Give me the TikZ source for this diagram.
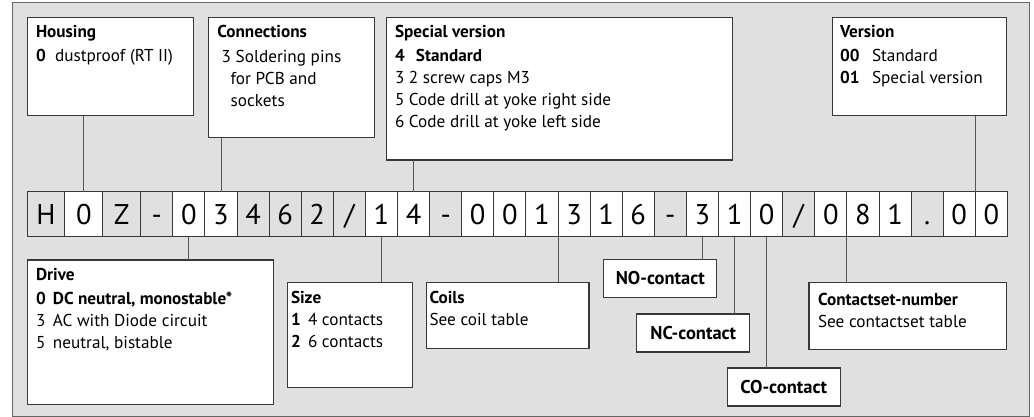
\documentclass[tikz,border=0pt]{standalone}
\usepackage{fontspec}
\setmainfont{PT Sans}
\definecolor{bgc}{HTML}{E0E0E0}
\definecolor{cg}{HTML}{E0E0E0}
\definecolor{cw}{HTML}{FFFFFF}
\definecolor{boxline}{HTML}{383838}
\definecolor{connline}{HTML}{555555}
\definecolor{framecol}{HTML}{666666}
\newcommand\bodyf{\fontsize{17.2}{22}\selectfont}
\newcommand\tagf{\fontsize{18.5}{22}\selectfont}
\newcommand\codef{\fontsize{28.5}{30}\selectfont}
\newcommand\fl{\rule{0pt}{13pt}}
\newcommand\nb[2]{\makebox[#1][l]{#2}}
\begin{document}
\begin{tikzpicture}[x=1pt,y=-1pt,
  infobox/.style={draw=boxline, fill=white, line width=1.1pt, inner sep=0pt, outer sep=0pt, anchor=north west},
  infotxt/.style={anchor=north west, inner sep=0pt, outer sep=0pt, align=left, font=\bodyf},
  tagbox/.style={draw=boxline, fill=white, line width=1.1pt, inner sep=0pt, outer sep=0pt, anchor=north west, font=\tagf\bfseries},
  conn/.style={draw=connline, line width=0.9pt},
  codecell/.style={draw=boxline, line width=0.9pt, minimum height=45pt, text height=21.6pt, text depth=0pt, inner sep=0pt, outer sep=0pt, anchor=north west, font=\codef}]
\useasboundingbox (0,0) rectangle (1034,417);
\path[fill=bgc, draw=framecol, line width=1pt] (12.3,2.7) rectangle (1029.3,416.5);

% code row
\def\sl{/}
\foreach \i/\ch/\f in {0/H/g,1/0/w,2/Z/g,3/-/g,4/0/w,5/3/w,6/4/g,7/6/g,8/2/g,9/\sl/g,10/1/w,11/4/w,12/-/g,13/0/w,14/0/w,15/1/w,16/3/w,17/1/w,18/6/w,19/-/g,20/3/w,21/1/w,22/0/w,23/\sl/g,24/0/w,25/8/w,26/1/w,27/./g,28/0/w,29/0/w}{
  \pgfmathsetmacro\xl{\i<3 ? 27+\i*37.9 : 140.7+(\i-3)*32.1}
  \pgfmathsetmacro\cellw{\i<3 ? 37.9 : 32.1}
  \node[codecell, fill=c\f, minimum width=\cellw pt] (c\i) at (\xl,191.7) {\ch};
}

% top boxes
\node[infobox, minimum width=166pt, minimum height=98pt] (housing) at (27.3,17.7) {};
\node[infotxt] (housingT) at (36,24.7) {\fl\textbf{Housing}\\[2pt]\nb{19pt}{\textbf{0}}dustproof (RT II)};

\node[infobox, minimum width=165.6pt, minimum height=119.6pt] (conns) at (208.7,17.7) {};
\node[infotxt] (connsT) at (217.3,24.7) {\fl\textbf{Connections}\\[2.5pt]\hspace*{4.4pt}3 Soldering pins\\\hspace*{13.4pt}for PCB and\\\hspace*{13.4pt}sockets};

\node[infobox, minimum width=346pt, minimum height=142.3pt] (special) at (386.7,17.7) {};
\node[infotxt] (specialT) at (395,24.7) {\fl\textbf{Special version}\\[2pt]\nb{21pt}{\textbf{4}}\textbf{Standard}\\\nb{14pt}{3}2 screw caps M3\\\nb{14pt}{5}Code drill at yoke right side\\\nb{14pt}{6}Code drill at yoke left side};

\node[infobox, minimum width=174pt, minimum height=98pt] (version) at (832.7,17.7) {};
\node[infotxt] (versionT) at (840,24.7) {\fl\textbf{Version}\\[2pt]\nb{32pt}{\textbf{00}}Standard\\\nb{32pt}{\textbf{01}}Special version};

% bottom boxes
\node[infobox, minimum width=246pt, minimum height=144.5pt] (drive) at (27.3,260) {};
\node[infotxt] (driveT) at (36,267.7) {\fl\textbf{Drive}\\[1.5pt]\nb{17pt}{\textbf{0}}\textbf{DC neutral, monostable*}\\\nb{17pt}{3}AC with Diode circuit\\\nb{17pt}{5}neutral, bistable};

\node[infobox, minimum width=124.6pt, minimum height=105pt] (size) at (287.7,282.3) {};
\node[infotxt] (sizeT) at (291,290.3) {\fl\textbf{Size}\\\nb{17pt}{\textbf{1}}4 contacts\\\nb{17pt}{\textbf{2}}6 contacts};

\node[infobox, minimum width=162.3pt, minimum height=66.4pt] (coils) at (426.7,282.3) {};
\node[infotxt] (coilsT) at (429.5,290.3) {\fl\textbf{Coils}\\See coil table};

\node[tagbox, minimum width=113pt, minimum height=38pt] (nocon) at (603.8,259.5) {NO-contact};
\node[tagbox, minimum width=113pt, minimum height=38pt] (nccon) at (636.8,314) {NC-contact};
\node[tagbox, minimum width=113pt, minimum height=38pt] (cocon) at (727.2,368) {CO-contact};

\node[infobox, minimum width=197.6pt, minimum height=66.6pt] (cset) at (809,282.5) {};
\node[infotxt] (csetT) at (818,292) {\fl\textbf{Contactset-number}\\See contactset table};

% connectors
\draw[conn] (c1.north) -- (c1.north |- housing.south);
\draw[conn] (c5.north) -- (c5.north |- conns.south);
\draw[conn] (c11.north) -- (c11.north |- special.south);
\draw[conn] (c29.north west) -- (c29.north west |- version.south);
\draw[conn] (c4.south) -- (c4.south |- drive.north);
\draw[conn] (c10.south) -- (c10.south |- size.north);
\draw[conn] (c16.south west) -- (c16.south west |- coils.north);
\draw[conn] (c20.south) -- (c20.south |- nocon.north);
\draw[conn] (c21.south) -- (c21.south |- nccon.north);
\draw[conn] (c22.south) -- (c22.south |- cocon.north);
\draw[conn] (c25.south west) -- (c25.south west |- cset.north);
\end{tikzpicture}
\end{document}
